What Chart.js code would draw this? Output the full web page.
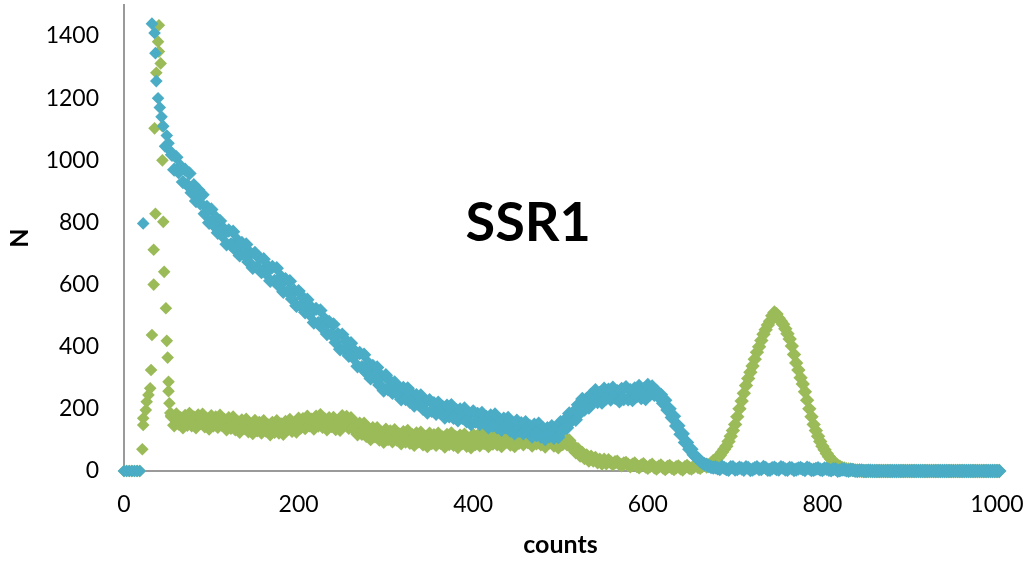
<!DOCTYPE html>
<html>
<head>
<meta charset="utf-8">
<script src="https://cdn.jsdelivr.net/npm/chart.js@4.4.0/dist/chart.umd.min.js"></script>
<style>
  html, body { margin: 0; padding: 0; background: #fff; }
  #wrap { width: 1028px; height: 563px; }
</style>
</head>
<body>
<div id="wrap"><canvas id="ssrChart" width="1028" height="563"></canvas></div>
<script>
const chartTitle = 'SSR1';

// regular part of both spectra, read every 2.5 counts from 55 up to 1000:
// *N   -> counts 55, 60, 65 ...
// *N2  -> counts 57.5, 62.5, 67.5 ...
const countStart = 55;
const countStep = 5;

const blueN = [
  1018, 1010, 980, 970, 958, 920, 905, 889, 850, 842,
  816, 805, 777, 774, 770, 742, 734, 729, 700, 702,
  686, 682, 658, 657, 653, 625, 617, 611, 580, 579,
  558, 551, 525, 522, 517, 489, 480, 472, 440, 439,
  418, 411, 384, 380, 374, 346, 338, 333, 305, 308,
  288, 285, 267, 267, 266, 247, 244, 243, 223, 228,
  218, 220, 206, 210, 212, 197, 198, 201, 184, 192,
  184, 187, 174, 179, 182, 167, 168, 171, 154, 162,
  154, 157, 144, 149, 152, 137, 138, 144, 136, 157,
  164, 185, 190, 213, 232, 232, 246, 260, 251, 265,
  262, 268, 257, 264, 270, 260, 266, 274, 263, 277,
  272, 258, 246, 228, 200, 176, 146, 120, 92, 70,
  46, 32, 22, 16, 11, 9, 14, 6, 12, 5,
  11, 4, 10, 5, 12, 6, 10, 4, 11, 5,
  10, 4, 9, 5, 10, 3, 8, 4, 9, 3,
  7, 2, 6, 2, 5, 1, 3, 0, 2, 0,
  1, 0, 0, 0, 0, 0, 0, 0, 0, 0,
  0, 0, 0, 0, 0, 0, 0, 0, 0, 0,
  0, 0, 0, 0, 0, 0, 0, 0, 0, 0
];

const blueN2 = [
  970, 962, 930, 921, 896, 869, 861, 828, 799, 792,
  767, 758, 730, 729, 713, 694, 696, 673, 654, 657,
  640, 637, 612, 612, 596, 577, 578, 554, 532, 531,
  511, 505, 478, 476, 460, 441, 440, 414, 392, 391,
  371, 365, 337, 334, 317, 298, 300, 277, 259, 263,
  252, 250, 231, 232, 223, 211, 215, 200, 188, 194,
  184, 187, 172, 176, 171, 163, 171, 160, 151, 159,
  151, 155, 141, 146, 141, 133, 141, 130, 121, 129,
  121, 125, 111, 116, 111, 103, 112, 107, 109, 131,
  139, 161, 165, 187, 198, 204, 224, 222, 220, 234,
  230, 236, 224, 232, 231, 228, 241, 235, 232, 246,
  245, 238, 218, 196, 172, 145, 118, 92, 70, 52,
  40, 26, 20, 13, 12, 6, 10, 4, 12, 6,
  8, 12, 3, 9, 6, 13, 4, 9, 6, 12,
  5, 10, 3, 8, 6, 11, 3, 7, 5, 8,
  4, 6, 1, 5, 2, 4, 1, 2, 0, 1,
  0, 0, 0, 0, 0, 0, 0, 0, 0, 0,
  0, 0, 0, 0, 0, 0, 0, 0, 0, 0,
  0, 0, 0, 0, 0, 0, 0, 0, 0, 0
];

const greenN = [
  179, 182, 170, 177, 184, 172, 179, 181, 166, 176,
  172, 178, 164, 170, 172, 158, 163, 165, 151, 161,
  155, 160, 147, 155, 160, 150, 158, 164, 154, 168,
  167, 175, 165, 175, 180, 166, 170, 171, 159, 176,
  174, 170, 150, 152, 152, 136, 138, 138, 123, 133,
  127, 131, 118, 125, 129, 116, 121, 123, 109, 120,
  115, 120, 108, 116, 121, 109, 114, 117, 104, 116,
  113, 119, 108, 117, 123, 111, 118, 121, 108, 120,
  116, 122, 110, 119, 123, 111, 116, 119, 105, 117,
  105, 98, 80, 70, 58, 50, 46, 42, 36, 36,
  35, 22, 30, 18, 26, 15, 24, 12, 22, 10,
  20, 8, 18, 6, 16, 6, 15, 5, 16, 8,
  18, 10, 20, 18, 32, 42, 60, 80, 112, 150,
  200, 250, 298, 338, 382, 420, 455, 482, 510, 492,
  472, 442, 402, 348, 300, 255, 200, 150, 112, 80,
  56, 38, 22, 14, 8, 5, 3, 2, 0, 0,
  0, 0, 0, 0, 0, 0, 0, 0, 0, 0,
  0, 0, 0, 0, 0, 0, 0, 0, 0, 0,
  0, 0, 0, 0, 0, 0, 0, 0, 0, 0
];

const greenN2 = [
  147, 153, 141, 149, 147, 141, 154, 144, 137, 147,
  142, 148, 134, 139, 134, 126, 138, 128, 122, 131,
  124, 130, 118, 126, 124, 120, 135, 129, 127, 140,
  138, 147, 137, 146, 142, 134, 145, 135, 133, 148,
  139, 137, 118, 120, 113, 103, 112, 101, 94, 103,
  96, 101, 89, 95, 91, 84, 96, 86, 80, 90,
  84, 91, 79, 87, 84, 77, 90, 81, 76, 87,
  83, 90, 80, 88, 86, 80, 94, 85, 80, 91,
  86, 93, 82, 89, 86, 79, 92, 82, 76, 87,
  86, 76, 60, 50, 42, 34, 34, 28, 24, 25,
  28, 28, 22, 24, 20, 20, 16, 18, 14, 16,
  12, 14, 11, 13, 10, 12, 9, 12, 10, 13,
  13, 16, 14, 24, 36, 50, 70, 95, 130, 175,
  225, 275, 318, 360, 400, 440, 470, 500, 505, 482,
  458, 425, 375, 325, 280, 228, 175, 130, 95, 68,
  46, 30, 18, 10, 6, 4, 2, 1, 0, 0,
  0, 0, 0, 0, 0, 0, 0, 0, 0, 0,
  0, 0, 0, 0, 0, 0, 0, 0, 0, 0,
  0, 0, 0, 0, 0, 0, 0, 0, 0, 0
];

// the sharp spike at low counts, read point by point
const blueSpikeCounts = [0, 3, 6, 9, 12, 15, 18, 22, 32, 35, 36, 37, 39, 41, 43, 45, 47, 49, 51, 53];
const blueSpikeN = [0, 0, 0, 0, 0, 0, 0, 797, 1440, 1410, 1345, 1255, 1200, 1170, 1140, 1110, 1045, 1080, 1055, 1030];

const greenSpikeCounts = [0, 3, 6, 9, 12, 15, 18, 21, 22, 22, 25, 26, 28, 30, 31, 32, 34, 34, 36, 35, 37, 39, 40, 40, 42, 44, 44, 45, 46, 48, 49, 50, 51, 51, 52, 53, 54];
const greenSpikeN = [0, 0, 0, 0, 0, 0, 0, 70, 148, 170, 196, 223, 245, 266, 325, 438, 600, 712, 828, 1103, 1282, 1382, 1350, 1435, 1312, 1110, 1000, 802, 641, 524, 419, 365, 287, 257, 218, 187, 175];

const xTicks = [0, 200, 400, 600, 800, 1000];
const yTicks = [0, 200, 400, 600, 800, 1000, 1200, 1400];

const mainCounts = blueN.map((_, i) => countStart + i * countStep);
const halfCounts = blueN2.map((_, i) => countStart + countStep / 2 + i * countStep);
const toPoints = (xs, ys) => xs.map((x, i) => ({ x: x, y: ys[i] }));

const insideTitle = {
  id: 'insideTitle',
  afterDatasetsDraw(chart) {
    const { ctx, scales } = chart;
    ctx.save();
    ctx.font = 'bold 54px Lato';
    ctx.fillStyle = '#000';
    ctx.textAlign = 'center';
    ctx.textBaseline = 'middle';
    ctx.fillText(chartTitle, scales.x.getPixelForValue(463), scales.y.getPixelForValue(795));
    ctx.restore();
  }
};

const axisColor = '#9a9a9a';
const tickFont = { family: 'Lato', size: 23 };
const labelFont = { family: 'Lato', size: 25, weight: 'bold' };

// spike points are single diamonds; the dense part gets a touch larger marks so the band closes up
const seriesStyle = (color, spikeLength) => ({
  pointBackgroundColor: color,
  pointBorderWidth: 0,
  pointStyle: 'rectRot',
  pointRadius: (c) => (c.dataIndex < spikeLength ? 6.3 : 7.2),
  clip: false
});

const ctx = document.getElementById('ssrChart').getContext('2d');
new Chart(ctx, {
  type: 'scatter',
  data: {
    datasets: [
      Object.assign({
        label: 'blue',
        data: toPoints(blueSpikeCounts, blueSpikeN)
          .concat(toPoints(mainCounts, blueN), toPoints(halfCounts, blueN2))
      }, seriesStyle('#4BACC6', blueSpikeCounts.length)),
      Object.assign({
        label: 'green',
        data: toPoints(greenSpikeCounts, greenSpikeN)
          .concat(toPoints(mainCounts, greenN), toPoints(halfCounts, greenN2))
      }, seriesStyle('#9BBB59', greenSpikeCounts.length))
    ]
  },
  options: {
    responsive: false,
    animation: false,
    layout: { autoPadding: false, padding: { left: 0, right: 31, top: 5, bottom: 0 } },
    plugins: {
      legend: { display: false },
      tooltip: { enabled: false }
    },
    scales: {
      x: {
        type: 'linear',
        min: 0,
        max: 1000,
        afterBuildTicks: (s) => { s.ticks = xTicks.map(v => ({ value: v })); },
        afterFit: (s) => { s.height = 92; s.paddingLeft = 0; s.paddingRight = 0; },
        grid: { display: false, drawTicks: false },
        border: { display: true, color: axisColor, width: 2 },
        ticks: { color: '#000', font: tickFont, padding: 20, maxRotation: 0, callback: (v) => String(v) },
        title: { display: true, text: 'counts', color: '#000', font: labelFont, padding: { top: 0, bottom: 3 } }
      },
      y: {
        type: 'linear',
        min: 0,
        max: 1500,
        afterBuildTicks: (s) => { s.ticks = yTicks.map(v => ({ value: v })); },
        afterFit: (s) => { s.width = 124; s.paddingTop = 0; s.paddingBottom = 0; },
        grid: { display: false, drawTicks: false },
        border: { display: true, color: axisColor, width: 2 },
        ticks: { color: '#000', font: tickFont, padding: 25, callback: (v) => String(v) },
        title: { display: true, text: 'N', color: '#000', font: labelFont, padding: { top: 5, bottom: 0 } }
      }
    }
  },
  plugins: [insideTitle]
});
</script>
</body>
</html>
